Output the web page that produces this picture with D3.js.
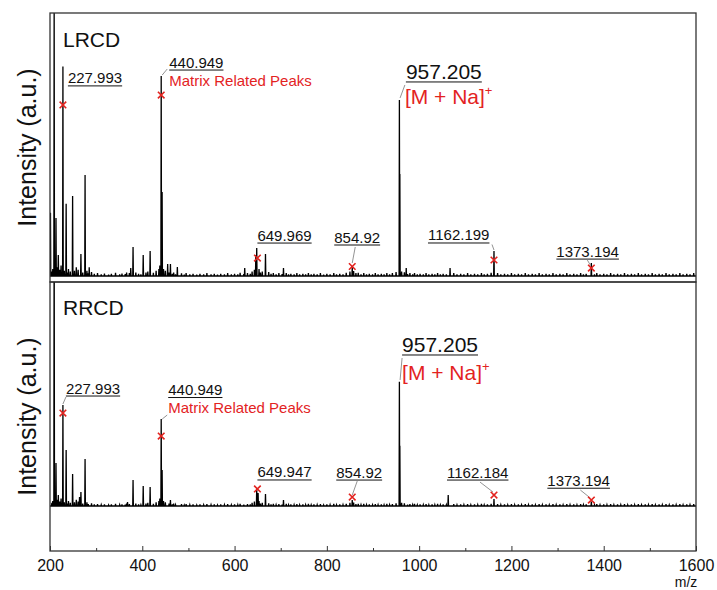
<!DOCTYPE html>
<html>
<head>
<meta charset="utf-8">
<script src="https://cdn.jsdelivr.net/npm/d3@7"></script>
<style>
  body { margin: 0; background: #fff; }
  text { font-family: "Liberation Sans", Arial, sans-serif; fill: #111; }
</style>
</head>
<body>
<div id="chart"></div>
<script>
// LRCD spectrum: m/z and intensity (957.205 peak = 100)
var lrcdMz = [201, 209, 213, 218, 228, 235, 249, 267, 276, 285, 375, 380, 402, 417, 441, 443, 455, 461, 476, 622, 646, 648, 667, 706, 855, 957.2, 958.2, 972, 1067, 1162.2, 1373.2];
var lrcdInt = [36, 160, 33, 12, 119, 41, 45.5, 12.5, 57.4, 5, 4.5, 16.5, 12, 14.2, 113.6, 47.7, 6.8, 6.8, 5.1, 4.5, 12, 15.9, 12.5, 4.5, 5, 100, 58, 4.5, 4.5, 14.2, 7.4];

// RRCD spectrum
var rrcdMz = [209, 213, 218, 228, 235, 249, 264, 267, 276, 368, 380, 402, 417, 441, 443, 461, 648, 651, 667, 706, 855, 957.2, 958.2, 1063, 1162.2, 1373.2];
var rrcdInt = [250, 34.6, 8.8, 81.3, 45, 25.7, 7.2, 11.3, 37.8, 3.2, 20.9, 16.1, 15.3, 70, 29, 4.8, 14.5, 10.5, 9.7, 4.8, 4.8, 100, 48.5, 8.8, 5.6, 3.5];

// small baseline peaks [m/z, intensity]
var baselineNoise = [
  [204, 2.5], [206, 4], [215, 5], [221, 3.5], [224, 6], [231, 3], [238, 2], [240, 4], [244, 2.5], [253, 3],
  [257, 5], [261, 3.5], [271, 2], [280, 3], [283, 1.5], [290, 2.2], [296, 1.2], [303, 1.6], [311, 1], [318, 1.4],
  [327, 0.8], [333, 1.3], [342, 1.8], [351, 1], [356, 1.4], [363, 1.1], [366, 1.9], [372, 1.6], [386, 2], [392, 1.3],
  [397, 0.9], [408, 2], [412, 2.5], [424, 1.8], [430, 3], [436, 4], [438, 6], [446, 4], [450, 3], [458, 2],
  [465, 1.2], [468, 2], [472, 1], [485, 1.5], [491, 0.8], [495, 1.6], [503, 1], [510, 1.3], [518, 0.8], [525, 1.2],
  [533, 0.9], [540, 1.6], [549, 1], [556, 1.3], [563, 0.8], [570, 1.2], [578, 1], [585, 1.6], [593, 0.9], [600, 1.3],
  [607, 1], [612, 1.8], [620, 1.1], [628, 1.6], [634, 1.2], [638, 2.6], [643, 3.5], [653, 4], [656, 2], [660, 2.6],
  [674, 2.2], [679, 1.2], [684, 1.7], [690, 1], [696, 1.6], [703, 1.1], [712, 1.7], [717, 0.9], [722, 1.3], [729, 1],
  [735, 1.6], [741, 0.9], [748, 1.2], [754, 1], [760, 1.7], [766, 0.9], [772, 1.3], [779, 1], [786, 1.6], [793, 0.8],
  [800, 1.3], [807, 1], [815, 1.7], [821, 0.9], [828, 1.3], [835, 1], [842, 1.8], [850, 2.6], [858, 2.8], [863, 1.6],
  [868, 1.8], [874, 1], [880, 1.7], [886, 1], [892, 1.3], [899, 0.9], [905, 1.6], [911, 1], [918, 1.3], [924, 0.9],
  [930, 1.7], [936, 1], [942, 1.6], [950, 2.2], [962, 2.6], [968, 2.1], [975, 1.1], [980, 1.6], [986, 1], [990, 1.7],
  [996, 0.9], [1002, 1.3], [1009, 1], [1015, 1.6], [1021, 0.9], [1028, 1.3], [1034, 1], [1040, 1.7], [1046, 0.9], [1052, 1.3],
  [1059, 1], [1075, 1.6], [1082, 0.9], [1090, 1.3], [1097, 1], [1105, 1.6], [1112, 0.9], [1120, 1.3], [1127, 1], [1135, 1.7],
  [1141, 0.9], [1148, 1.3], [1156, 1.8], [1170, 1.6], [1177, 1], [1185, 1.3], [1192, 0.9], [1200, 1.6], [1207, 1], [1215, 1.3],
  [1222, 0.9], [1230, 1.6], [1237, 1], [1245, 1.3], [1252, 0.9], [1260, 1.6], [1267, 1], [1275, 1.3], [1282, 0.9], [1290, 1.6],
  [1297, 1], [1305, 1.3], [1312, 0.9], [1320, 1.6], [1327, 1], [1335, 1.3], [1342, 0.9], [1350, 1.6], [1356, 1], [1362, 1.3],
  [1380, 1], [1385, 1.6], [1392, 0.9], [1400, 1.3], [1407, 1], [1415, 1.6], [1422, 0.9], [1430, 1.3], [1437, 1], [1445, 1.6],
  [1452, 0.9], [1460, 1.3], [1467, 1], [1475, 1.6], [1482, 0.9], [1490, 1.3], [1497, 1], [1505, 1.6], [1512, 0.9], [1520, 1.3],
  [1527, 1], [1535, 1.6], [1542, 0.9], [1550, 1.3], [1557, 1], [1565, 1.6], [1572, 0.9], [1580, 1.3], [1587, 1], [1595, 1.6]
];

// annotated peaks
var lrcdLabels = ["227.993", "440.949", "649.969", "854.92", "957.205", "1162.199", "1373.194"];
var rrcdLabels = ["227.993", "440.949", "649.947", "854.92", "957.205", "1162.184", "1373.194"];
var labelMz = [228, 441, 649.5, 855, 957.2, 1162.2, 1373.2];
// intensity where the red x sits (null = no marker, anchor on peak top)
var lrcdMarkInt = [97.2, 102.8, 10.2, 5.4, null, 9.1, 4.5];
var rrcdMarkInt = [74.8, 56.3, 13.7, 7.2, null, 8.8, 4.8];
var notes = ["", "Matrix Related Peaks", "", "", "[M + Na]", "", ""];

var xTicks = [200, 400, 600, 800, 1000, 1200, 1400, 1600];
var xMinor = [300, 500, 700, 900, 1100, 1300, 1500];

var W = 717, H = 590;
var left = 50, right = 696;
var svg = d3.select("#chart").append("svg").attr("width", W).attr("height", H);

var x = d3.scaleLinear().domain([200, 1600]).range([left, right]);

// label offsets (px) relative to the anchor: label [dx, dy], note [dx, dy], leader [x1,y1,x2,y2]
var lrcdLayout = [
  { l: [5, -21.5], big: false },
  { l: [8, -27.5], n: [8, -9.5], lead: [1, -20, 6, -26] },
  { l: [0, -17.5] },
  { l: [-18, -24], lead: [3, -19.5, 0, -3.5] },
  { l: [6.5, -21], n: [5.5, 4.5], lead: [0.7, -2, 5.5, -15], big: true },
  { l: [-66, -19.5], lead: [-2, -15.5, 0, -10] },
  { l: [-35, -11.5], lead: [-4, -8, -1, -3] }
];
var rrcdLayout = [
  { l: [3, -19.5], lead: [0, -9, 3, -16] },
  { l: [7, -41], n: [7, -23.3], lead: [1, -17, 6, -21] },
  { l: [0, -11.5] },
  { l: [-16, -19.5], lead: [5, -16, 0, -2] },
  { l: [2.7, -29.7], n: [2.7, -1.5], lead: [0.7, -1.7, 2.7, -23.7], big: true },
  { l: [-47, -17.5], lead: [-14, -13, -1, -3] },
  { l: [-44, -14.3], lead: [-11, -10, -1, -2] }
];

var panels = [
  { name: "LRCD", mz: lrcdMz, inten: lrcdInt, labels: lrcdLabels, mark: lrcdMarkInt, layout: lrcdLayout,
    top: 13, bottom: 282, domain: [-3.4, 149.4] },
  { name: "RRCD", mz: rrcdMz, inten: rrcdInt, labels: rrcdLabels, mark: rrcdMarkInt, layout: rrcdLayout,
    top: 282, bottom: 551, domain: [-36.2, 180.2] }
];

function spectrumPoints(mz, inten) {
  var sticks = mz.map(function (m, i) { return [m, inten[i]]; }).concat(baselineNoise);
  sticks.sort(function (a, b) { return a[0] - b[0]; });
  var pts = [[200, 0]];
  sticks.forEach(function (s) {
    pts.push([s[0] - 0.7, 0], [s[0], s[1]], [s[0] + 0.7, 0]);
  });
  pts.push([1600, 0]);
  return pts;
}

var red = "#e3231f";

panels.forEach(function (p, pi) {
  var y = d3.scaleLinear().domain(p.domain).range([p.bottom, p.top]);
  var g = svg.append("g");

  var clipId = "clip" + pi;
  svg.append("clipPath").attr("id", clipId)
    .append("rect").attr("x", left).attr("y", p.top)
    .attr("width", right - left).attr("height", p.bottom - p.top);

  var line = d3.line().x(function (d) { return x(d[0]); }).y(function (d) { return y(d[1]); });
  g.append("path")
    .datum(spectrumPoints(p.mz, p.inten))
    .attr("clip-path", "url(#" + clipId + ")")
    .attr("fill", "none")
    .attr("stroke", "#000")
    .attr("stroke-width", 1.3)
    .attr("d", line);

  // frame
  g.append("rect")
    .attr("x", left).attr("y", p.top)
    .attr("width", right - left).attr("height", p.bottom - p.top)
    .attr("fill", "none").attr("stroke", "#333").attr("stroke-width", 1.3);

  g.append("text").attr("x", 63).attr("y", p.top + (pi === 0 ? 34 : 33))
    .style("font-size", "21px").text(p.name);

  g.append("text")
    .attr("transform", "translate(36," + ((p.top + p.bottom) / 2) + ") rotate(-90)")
    .attr("text-anchor", "middle")
    .style("font-size", "25px")
    .text("Intensity (a.u.)");

  // annotations
  p.labels.forEach(function (lab, i) {
    var lay = p.layout[i];
    var peakTop = p.inten[p.mz.indexOf(labelMz[i])];
    var ax = x(labelMz[i]);
    var ay = p.mark[i] === null ? y(peakTop) : y(p.mark[i]);

    if (lay.lead) {
      g.append("line")
        .attr("x1", ax + lay.lead[0]).attr("y1", ay + lay.lead[1])
        .attr("x2", ax + lay.lead[2]).attr("y2", ay + lay.lead[3])
        .attr("stroke", "#777").attr("stroke-width", 0.8);
    }

    var fs = lay.big ? 21 : 15;
    var t = g.append("text")
      .attr("x", ax + lay.l[0]).attr("y", ay + lay.l[1])
      .style("font-size", fs + "px").text(lab);
    var tw = t.node().getComputedTextLength();
    g.append("line")
      .attr("x1", ax + lay.l[0]).attr("x2", ax + lay.l[0] + tw)
      .attr("y1", ay + lay.l[1] + (lay.big ? 3 : 2.5)).attr("y2", ay + lay.l[1] + (lay.big ? 3 : 2.5))
      .attr("stroke", "#111").attr("stroke-width", 1);

    if (notes[i]) {
      var nt = g.append("text")
        .attr("x", ax + lay.n[0]).attr("y", ay + lay.n[1])
        .style("fill", red)
        .style("font-size", lay.big ? "21px" : "15px")
        .text(notes[i]);
      if (lay.big) {
        nt.append("tspan").attr("dy", -9).style("font-size", "13px").style("fill", red).text("+");
      }
    }

    if (p.mark[i] !== null) {
      var s = 3.3;
      g.append("path")
        .attr("d", "M" + (ax - s) + "," + (ay - s) + "L" + (ax + s) + "," + (ay + s) +
                   "M" + (ax + s) + "," + (ay - s) + "L" + (ax - s) + "," + (ay + s))
        .attr("stroke", red).attr("stroke-width", 1.6).attr("fill", "none");
    }
  });
});

// bottom axis
var axisY = panels[1].bottom;
var ax = svg.append("g").attr("transform", "translate(0," + axisY + ")")
  .call(d3.axisBottom(x).tickValues(xTicks).tickSizeInner(-5).tickSizeOuter(0).tickPadding(9).tickFormat(d3.format("d")));
ax.select(".domain").remove();
ax.selectAll(".tick line").attr("stroke", "#333");
ax.selectAll(".tick text").style("font-size", "16px").style("font-family", "'Liberation Sans', Arial, sans-serif").attr("fill", "#111");

var axm = svg.append("g").attr("transform", "translate(0," + axisY + ")")
  .call(d3.axisBottom(x).tickValues(xMinor).tickSizeInner(-3).tickSizeOuter(0).tickFormat(""));
axm.select(".domain").remove();
axm.selectAll(".tick line").attr("stroke", "#333");

svg.append("text").attr("x", 686).attr("y", 587).attr("text-anchor", "middle")
  .style("font-size", "14px").text("m/z");
</script>
</body>
</html>
